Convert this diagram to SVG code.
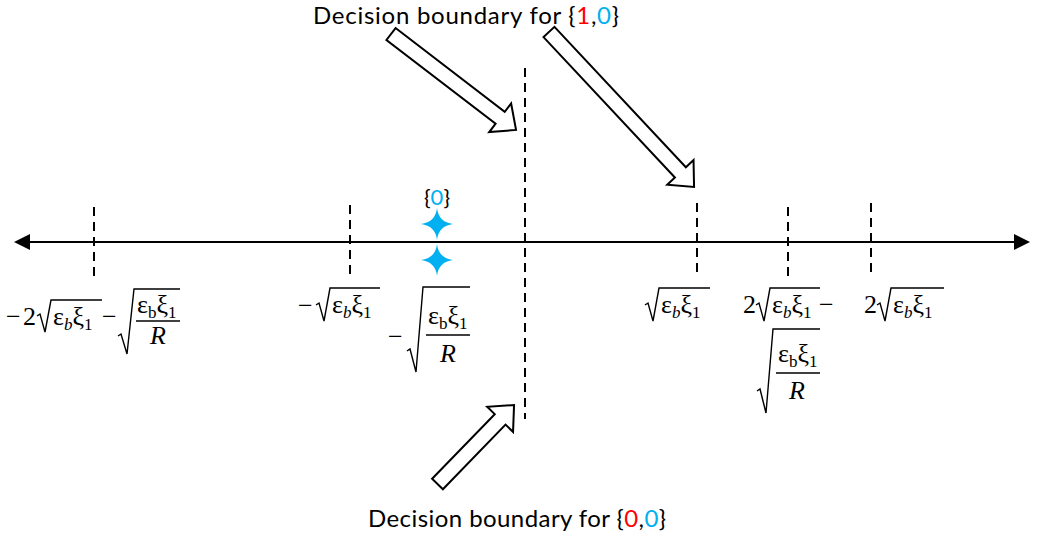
<svg xmlns="http://www.w3.org/2000/svg" width="1038" height="536" viewBox="0 0 1038 536">
<style>
.lbl{font-family:Lato,"Liberation Sans",sans-serif;font-size:24px;fill:#000}
.red{fill:#FF0000}
.blue{fill:#00B0F0}
.m{font-family:"Liberation Serif",serif;font-size:26px;fill:#000}
.s{font-size:17px}
.i{font-style:italic}
.dash{stroke:#000;stroke-width:2;stroke-dasharray:9 6;fill:none}
.rad{stroke:#000;stroke-width:1.4;fill:none;stroke-linejoin:miter}
.bar{stroke:#000;stroke-width:1.4}
.blk{fill:#fff;stroke:#000;stroke-width:2;stroke-linejoin:miter}
.star{fill:#00B0F0}
</style>
<defs>
<marker id="ah" markerWidth="8" markerHeight="8" refX="7" refY="4" orient="auto-start-reverse" markerUnits="strokeWidth">
<path d="M0,0 L8,4 L0,8 Z" fill="#000"/>
</marker>
</defs>

<g id="connectors">
<line id="axis" x1="16" y1="242" x2="1028" y2="242" stroke="#000" stroke-width="2" marker-start="url(#ah)" marker-end="url(#ah)"/>
<line class="dash" x1="94" y1="207" x2="94" y2="276"/>
<line class="dash" x1="350" y1="205" x2="350" y2="275"/>
<line class="dash" x1="697" y1="203" x2="697" y2="274"/>
<line class="dash" x1="788" y1="207" x2="788" y2="279"/>
<line class="dash" x1="871" y1="203" x2="871" y2="274"/>
<line id="boundary" class="dash" x1="525" y1="68" x2="525" y2="419"/>
</g>

<g id="arrow-10a">
<polygon class="blk" transform="translate(391,34) rotate(37.5)" points="0,-7.5 137.6,-7.5 137.6,-18 157.6,0 137.6,18 137.6,7.5 0,7.5"/>
</g>
<g id="arrow-10b">
<polygon class="blk" transform="translate(549,32) rotate(46.9)" points="0,-7.5 192.3,-7.5 192.3,-18 212.3,0 192.3,18 192.3,7.5 0,7.5"/>
</g>
<g id="arrow-00">
<polygon class="blk" transform="translate(437.5,484) rotate(-45.9)" points="0,-7.5 90,-7.5 90,-18 110,0 90,18 90,7.5 0,7.5"/>
</g>

<g id="label-top">
<text class="lbl" x="313" y="24" textLength="306" lengthAdjust="spacing">Decision boundary for {<tspan class="red">1</tspan>,<tspan class="blue">0</tspan>}</text>
</g>
<g id="label-bottom">
<text class="lbl" x="368" y="527" textLength="298" lengthAdjust="spacing">Decision boundary for {<tspan class="red">0</tspan>,<tspan class="blue">0</tspan>}</text>
</g>

<g id="symbol-0">
<text class="lbl" x="437" y="205" text-anchor="middle" style="font-size:22px">{<tspan class="blue">0</tspan>}</text>
<path class="star" d="M437,208 Q438.6,222.2 453,224 Q438.6,225.8 437,240 Q435.4,225.8 421,224 Q435.4,222.2 437,208 Z"/>
<path class="star" d="M437,244 Q438.6,258.2 453,260 Q438.6,261.8 437,276 Q435.4,261.8 421,260 Q435.4,258.2 437,244 Z"/>
</g>

<g id="tick-left">
<text class="m" x="6" y="325">−</text>
<text class="m" x="23" y="325">2</text>
<path class="rad" d="M37,316 L40,314 L45,332 L51,300 L102,300"/>
<text class="m" x="53" y="325">ε<tspan class="s i" dy="5">b</tspan><tspan dy="-5">ξ</tspan><tspan class="s" dy="5">1</tspan></text>
<text class="m" x="102" y="325">−</text>
<path class="rad" d="M118,336 L121,334 L127,354 L134,289 L180,289"/>
<text class="m" x="137" y="313">ε<tspan class="s" dy="5">b</tspan><tspan dy="-5">ξ</tspan><tspan class="s" dy="5">1</tspan></text>
<line class="bar" x1="136" y1="321" x2="180" y2="321"/>
<text class="m i" x="150" y="344">R</text>
</g>

<g id="tick-minus-root">
<text class="m" x="298" y="314">−</text>
<path class="rad" d="M316,305 L319,303 L324,321 L330,288 L380,288"/>
<text class="m" x="332" y="313">ε<tspan class="s i" dy="5">b</tspan><tspan dy="-5">ξ</tspan><tspan class="s" dy="5">1</tspan></text>
</g>

<g id="tick-minus-frac">
<text class="m" x="388" y="345">−</text>
<path class="rad" d="M407,351 L410,349 L416,372 L423,287 L470,287"/>
<text class="m" x="428" y="324">ε<tspan class="s" dy="5">b</tspan><tspan dy="-5">ξ</tspan><tspan class="s" dy="5">1</tspan></text>
<line class="bar" x1="426" y1="335" x2="470" y2="335"/>
<text class="m i" x="440" y="362">R</text>
</g>

<g id="tick-root">
<path class="rad" d="M645,305 L648,303 L653,321 L659,288 L710,288"/>
<text class="m" x="661" y="313">ε<tspan class="s i" dy="5">b</tspan><tspan dy="-5">ξ</tspan><tspan class="s" dy="5">1</tspan></text>
</g>

<g id="tick-2root-minus-frac">
<text class="m" x="743" y="313">2</text>
<path class="rad" d="M756,305 L759,303 L764,321 L770,288 L820,288"/>
<text class="m" x="772" y="313">ε<tspan class="s i" dy="5">b</tspan><tspan dy="-5">ξ</tspan><tspan class="s" dy="5">1</tspan></text>
<text class="m" x="819" y="313">−</text>
<path class="rad" d="M757,391 L760,389 L766,413 L773,329 L820,329"/>
<text class="m" x="778" y="362">ε<tspan class="s" dy="5">b</tspan><tspan dy="-5">ξ</tspan><tspan class="s" dy="5">1</tspan></text>
<line class="bar" x1="776" y1="373" x2="820" y2="373"/>
<text class="m i" x="789" y="399">R</text>
</g>

<g id="tick-2root">
<text class="m" x="864" y="313">2</text>
<path class="rad" d="M877,305 L880,303 L885,321 L891,288 L944,288"/>
<text class="m" x="893" y="313">ε<tspan class="s i" dy="5">b</tspan><tspan dy="-5">ξ</tspan><tspan class="s" dy="5">1</tspan></text>
</g>
</svg>
